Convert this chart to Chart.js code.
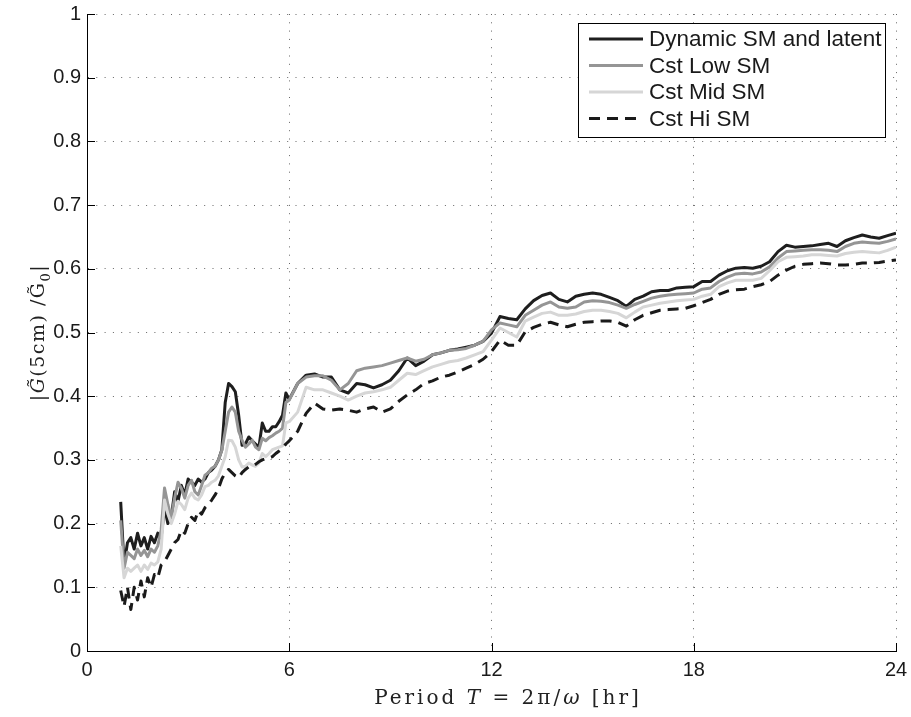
<!DOCTYPE html>
<html>
<head>
<meta charset="utf-8">
<script src="https://cdn.jsdelivr.net/npm/chart.js@4.4.1/dist/chart.umd.min.js"></script>
<style>
  html, body { margin: 0; padding: 0; background: #fff; }
  #wrap { width: 911px; height: 717px; position: relative; }
</style>
</head>
<body>
<div id="wrap"><canvas id="chartGain"></canvas></div>
<script>
// Period T [hr]
const periods = [
  1.0, 1.1, 1.2, 1.3, 1.4, 1.5, 1.6, 1.7, 1.8, 1.9,
  2.0, 2.1, 2.2, 2.3, 2.4, 2.5, 2.6, 2.7, 2.8, 2.9,
  3.0, 3.1, 3.2, 3.3, 3.4, 3.5, 3.6, 3.7, 3.8, 3.9,
  4.0, 4.1, 4.2, 4.3, 4.4, 4.5, 4.6, 4.7, 4.8, 4.9,
  5.0, 5.1, 5.2, 5.3, 5.4, 5.5, 5.6, 5.7, 5.8, 5.9,
  6.0,
  6.25, 6.5, 6.75, 7.0, 7.25, 7.5, 7.75, 8.0, 8.25, 8.5, 8.75, 9.0,
  9.25, 9.5, 9.75, 10.0, 10.25, 10.5, 10.75, 11.0, 11.25, 11.5, 11.75, 12.0,
  12.25, 12.5, 12.75, 13.0, 13.25, 13.5, 13.75, 14.0, 14.25, 14.5, 14.75, 15.0,
  15.25, 15.5, 15.75, 16.0, 16.25, 16.5, 16.75, 17.0, 17.25, 17.5, 17.75, 18.0,
  18.25, 18.5, 18.75, 19.0, 19.25, 19.5, 19.75, 20.0, 20.25, 20.5, 20.75, 21.0,
  21.25, 21.5, 21.75, 22.0, 22.25, 22.5, 22.75, 23.0, 23.25, 23.5, 23.75, 24.0,
];

const dynamicSM = [
  0.234, 0.135, 0.17, 0.178, 0.16, 0.185, 0.165, 0.178, 0.16, 0.18,
  0.17, 0.185, 0.178, 0.225, 0.2, 0.21, 0.25, 0.235, 0.26, 0.245,
  0.27, 0.265, 0.26, 0.27, 0.265, 0.27, 0.28, 0.284, 0.29, 0.3,
  0.316, 0.39, 0.42, 0.415, 0.407, 0.37, 0.323, 0.325, 0.336, 0.33,
  0.325, 0.32, 0.358, 0.345, 0.345, 0.352, 0.352, 0.36, 0.37, 0.405,
  0.395,
  0.42, 0.433, 0.435, 0.43, 0.43, 0.41, 0.405, 0.42, 0.418, 0.413, 0.418, 0.425,
  0.44, 0.46, 0.448, 0.455, 0.465, 0.468, 0.472, 0.474, 0.477, 0.48, 0.486, 0.499,
  0.525, 0.522, 0.52, 0.537, 0.55, 0.558, 0.562, 0.552, 0.548, 0.557, 0.56, 0.562,
  0.56, 0.555, 0.55, 0.541, 0.552, 0.557, 0.564, 0.566, 0.566, 0.57, 0.571, 0.572,
  0.58, 0.58, 0.59, 0.597, 0.601, 0.602, 0.601, 0.604, 0.611, 0.627, 0.637, 0.634,
  0.635, 0.636, 0.638, 0.64, 0.635, 0.644, 0.649, 0.653, 0.65, 0.648, 0.652, 0.656,
];

const lowSM = [
  0.205, 0.13, 0.155, 0.15, 0.145, 0.16, 0.15, 0.158, 0.148, 0.16,
  0.155, 0.165, 0.19, 0.256, 0.23, 0.21, 0.24, 0.265, 0.255, 0.24,
  0.26, 0.268, 0.25, 0.245, 0.26, 0.276, 0.28, 0.287, 0.29, 0.3,
  0.315, 0.345, 0.375, 0.383, 0.375, 0.345, 0.331, 0.32, 0.325, 0.331,
  0.32, 0.316, 0.334, 0.33, 0.335, 0.338, 0.342, 0.345, 0.35, 0.39,
  0.394,
  0.42, 0.43, 0.432, 0.432, 0.425, 0.41, 0.42, 0.44, 0.444, 0.446, 0.448, 0.452,
  0.456, 0.46, 0.455, 0.458, 0.465, 0.468, 0.472, 0.473, 0.475, 0.48, 0.486, 0.504,
  0.515, 0.512, 0.509, 0.527, 0.535, 0.543, 0.548, 0.54, 0.538, 0.54, 0.548, 0.55,
  0.549, 0.547, 0.543, 0.538, 0.544, 0.549, 0.554, 0.557, 0.559, 0.56, 0.561, 0.562,
  0.568, 0.57, 0.58, 0.587, 0.592, 0.593, 0.592, 0.595, 0.603, 0.617, 0.627, 0.628,
  0.629, 0.63, 0.63, 0.629, 0.627, 0.635, 0.64, 0.642, 0.641, 0.64, 0.643, 0.647,
];

const midSM = [
  0.165, 0.115, 0.13, 0.125, 0.13, 0.135, 0.125, 0.135, 0.128, 0.138,
  0.135, 0.14, 0.16, 0.237, 0.215, 0.2, 0.215, 0.235, 0.23, 0.222,
  0.24, 0.248, 0.24, 0.237, 0.245, 0.258, 0.26, 0.265, 0.268, 0.275,
  0.29, 0.305, 0.331, 0.33, 0.32, 0.3, 0.289, 0.29, 0.295, 0.292,
  0.29, 0.295, 0.31, 0.305, 0.31, 0.316, 0.318, 0.32, 0.322, 0.358,
  0.36,
  0.375, 0.414, 0.41, 0.41, 0.405, 0.4, 0.394, 0.4, 0.405, 0.407, 0.41, 0.414,
  0.425, 0.436, 0.434, 0.44, 0.446, 0.45, 0.454, 0.456, 0.46, 0.465, 0.47, 0.488,
  0.507, 0.5, 0.493, 0.518, 0.524, 0.53, 0.532, 0.527, 0.527, 0.529, 0.533, 0.535,
  0.535, 0.533, 0.53, 0.523, 0.532, 0.54, 0.543, 0.546, 0.548, 0.55, 0.551, 0.552,
  0.557, 0.56, 0.572, 0.578, 0.582, 0.582, 0.582, 0.585, 0.597, 0.611, 0.618, 0.619,
  0.62, 0.622, 0.622, 0.621, 0.62, 0.624, 0.626, 0.627, 0.626, 0.625, 0.629, 0.634,
];

const hiSM = [
  0.095, 0.07, 0.1, 0.065, 0.1, 0.08, 0.11, 0.085, 0.115, 0.1,
  0.12, 0.115, 0.135, 0.14, 0.15, 0.16, 0.17, 0.175, 0.19, 0.185,
  0.2, 0.21, 0.205, 0.22, 0.215, 0.225, 0.23, 0.237, 0.245, 0.255,
  0.27, 0.28, 0.285, 0.28, 0.275, 0.272, 0.28, 0.285, 0.289, 0.29,
  0.293, 0.297, 0.3, 0.302, 0.303, 0.305, 0.31, 0.314, 0.318, 0.325,
  0.33,
  0.345, 0.373, 0.389, 0.38, 0.378, 0.38, 0.378, 0.375, 0.38, 0.383, 0.375, 0.38,
  0.392, 0.402, 0.41, 0.42, 0.424, 0.43, 0.433, 0.438, 0.444, 0.45, 0.458, 0.47,
  0.488, 0.48, 0.48, 0.501, 0.508, 0.513, 0.516, 0.512, 0.509, 0.513, 0.516, 0.517,
  0.518, 0.518, 0.516, 0.51, 0.52, 0.527, 0.531, 0.535, 0.536, 0.537, 0.538, 0.542,
  0.547, 0.552, 0.56, 0.565, 0.567, 0.568, 0.572, 0.575, 0.58, 0.59, 0.598, 0.604,
  0.607, 0.608, 0.609, 0.608, 0.606, 0.606, 0.607, 0.609, 0.609, 0.61, 0.612, 0.614,
];

const seriesLabels = ['Dynamic SM and latent', 'Cst Low SM', 'Cst Mid SM', 'Cst Hi SM'];
const xTicks = [0, 6, 12, 18, 24];
const yTicks = [0, 0.1, 0.2, 0.3, 0.4, 0.5, 0.6, 0.7, 0.8, 0.9, 1];

const SANS = '"Liberation Sans", Arial, sans-serif';
const SERIF = '"DejaVu Serif", serif';

const toPoints = (values) => periods.map((t, i) => ({ x: t, y: values[i] }));

// draws text runs (normal / italic / subscript) centred on x
function drawRuns(ctx, runs, x, y, size, spacing) {
  let width = 0;
  const fontFor = (run) =>
    `${run.italic ? 'italic ' : ''}${run.sub ? Math.round(size * 0.7) : size}px ${SERIF}`;
  ctx.letterSpacing = `${spacing}px`;
  runs.forEach((run) => {
    ctx.font = fontFor(run);
    width += ctx.measureText(run.text).width;
  });
  let cx = x - width / 2;
  runs.forEach((run) => {
    ctx.font = fontFor(run);
    ctx.fillText(run.text, cx, run.sub ? y + size * 0.3 : y);
    cx += ctx.measureText(run.text).width;
  });
  ctx.letterSpacing = '0px';
}

const axisTitles = {
  id: 'axisTitles',
  afterDraw(chart) {
    const { ctx, chartArea } = chart;
    ctx.save();
    ctx.fillStyle = '#222';
    ctx.textBaseline = 'alphabetic';
    drawRuns(ctx, [
      { text: 'Period ' },
      { text: 'T', italic: true },
      { text: ' = 2π/' },
      { text: 'ω', italic: true },
      { text: ' [hr]' },
    ], 508, 704, 20, 3);

    ctx.translate(38, (chartArea.top + chartArea.bottom) / 2);
    ctx.rotate(-Math.PI / 2);
    drawRuns(ctx, [
      { text: '|' },
      { text: 'G\u0303', italic: true },
      { text: '(5cm) /G\u0303' },
      { text: '0', sub: true },
      { text: '|' },
    ], 0, 6, 19, 1.5);
    ctx.restore();
  },
};

const inwardTicks = {
  id: 'inwardTicks',
  afterDraw(chart) {
    const { ctx, chartArea, scales } = chart;
    ctx.save();
    ctx.strokeStyle = '#000';
    ctx.lineWidth = 1;
    ctx.beginPath();
    yTicks.forEach((v) => {
      const py = Math.round(scales.y.getPixelForValue(v)) + 0.5;
      ctx.moveTo(chartArea.left, py);
      ctx.lineTo(chartArea.left + 8, py);
    });
    xTicks.forEach((v) => {
      const px = Math.round(scales.x.getPixelForValue(v)) + 0.5;
      ctx.moveTo(px, chartArea.bottom);
      ctx.lineTo(px, chartArea.bottom - 8);
    });
    ctx.stroke();
    ctx.restore();
  },
};

const boxLegend = {
  id: 'boxLegend',
  afterDraw(chart) {
    const { ctx, chartArea } = chart;
    const w = 307;
    const h = 114;
    const left = chartArea.right - 11 - w;
    const top = chartArea.top + 9;
    ctx.save();
    ctx.fillStyle = '#fff';
    ctx.fillRect(left, top, w, h);
    ctx.strokeStyle = '#000';
    ctx.lineWidth = 1;
    ctx.strokeRect(Math.round(left) + 0.5, Math.round(top) + 0.5, w, h);
    ctx.font = `22.5px ${SANS}`;
    ctx.textBaseline = 'middle';
    chart.data.datasets.forEach((ds, i) => {
      const rowY = top + 16 + i * 26.5;
      ctx.beginPath();
      ctx.strokeStyle = ds.borderColor;
      ctx.lineWidth = ds.borderWidth;
      ctx.setLineDash(ds.borderDash || []);
      ctx.moveTo(left + 11, rowY);
      ctx.lineTo(left + 65, rowY);
      ctx.stroke();
      ctx.setLineDash([]);
      ctx.fillStyle = '#1a1a1a';
      ctx.fillText(ds.label, left + 71, rowY + 1);
    });
    ctx.restore();
  },
};

const lineStyle = { pointRadius: 0, borderWidth: 3, tension: 0, fill: false, borderJoinStyle: 'round' };

new Chart(document.getElementById('chartGain').getContext('2d'), {
  type: 'line',
  data: {
    datasets: [
      { ...lineStyle, label: seriesLabels[0], data: toPoints(dynamicSM), borderColor: '#1e1e1e', order: 4 },
      { ...lineStyle, label: seriesLabels[1], data: toPoints(lowSM), borderColor: '#959595', order: 3 },
      { ...lineStyle, label: seriesLabels[2], data: toPoints(midSM), borderColor: '#d6d6d6', order: 2 },
      { ...lineStyle, label: seriesLabels[3], data: toPoints(hiSM), borderColor: '#1a1a1a', borderDash: [11, 7], order: 1 },
    ],
  },
  options: {
    responsive: true,
    maintainAspectRatio: false,
    animation: false,
    devicePixelRatio: 1,
    layout: { padding: { left: 0, top: 14, right: 15, bottom: 0 } },
    plugins: { legend: { display: false }, tooltip: { enabled: false } },
    scales: {
      x: {
        type: 'linear',
        min: 0,
        max: 24,
        afterFit: (scale) => {
          scale.height = 66;
          scale.paddingLeft = 0;
          scale.paddingRight = 0;
        },
        afterBuildTicks: (scale) => { scale.ticks = xTicks.map((value) => ({ value })); },
        ticks: { padding: 7, color: '#1a1a1a', font: { family: SANS, size: 20 } },
        grid: { color: '#666', lineWidth: 1, drawTicks: false },
        border: { display: true, color: '#000', width: 1, dash: [1, 7.3] },
      },
      y: {
        min: 0,
        max: 1,
        afterFit: (scale) => {
          scale.width = 87;
          scale.paddingTop = 0;
          scale.paddingBottom = 0;
        },
        afterBuildTicks: (scale) => { scale.ticks = yTicks.map((value) => ({ value })); },
        ticks: {
          padding: 6,
          color: '#1a1a1a',
          font: { family: SANS, size: 20 },
          callback: (value) => String(Number(value.toFixed(1))),
        },
        grid: { color: '#666', lineWidth: 1, drawTicks: false },
        border: { display: true, color: '#000', width: 1, dash: [1, 7.3] },
      },
    },
  },
  plugins: [inwardTicks, boxLegend, axisTitles],
});
</script>
</body>
</html>
